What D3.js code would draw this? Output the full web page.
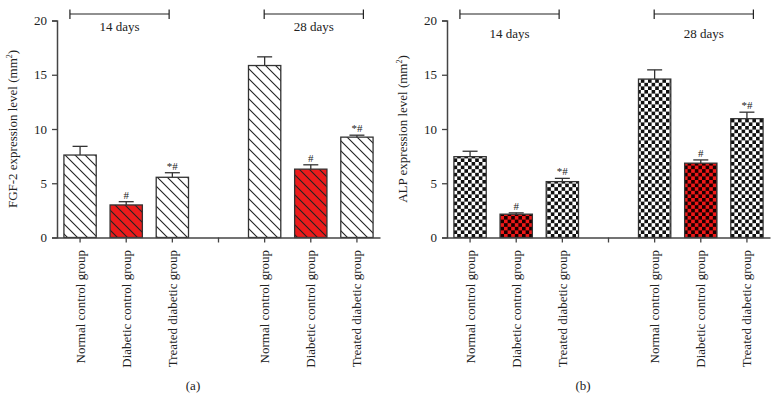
<!DOCTYPE html>
<html>
<head>
<meta charset="utf-8">
<script src="https://cdn.jsdelivr.net/npm/d3@7"></script>
<style>
  body { margin: 0; background: #fff; }
  svg { display: block; font-family: "Liberation Serif", "Times New Roman", serif; }
</style>
</head>
<body>
<div id="chart"></div>
<script>
// Data
const groups = ["Normal control group", "Diabetic control group", "Treated diabetic group"];
const periods = ["14 days", "28 days"];
const marks = ["", "#", "*#"];
const yTicks = [0, 5, 10, 15, 20];

const fgfMean14 = [7.6, 3.0, 5.55];
const fgfErr14  = [0.8, 0.3, 0.42];
const fgfMean28 = [15.85, 6.3, 9.25];
const fgfErr28  = [0.8, 0.4, 0.18];

const alpMean14 = [7.45, 2.15, 5.15];
const alpErr14  = [0.5, 0.12, 0.3];
const alpMean28 = [14.6, 6.85, 10.95];
const alpErr28  = [0.85, 0.3, 0.6];

const W = 780, H = 401;
const svg = d3.select("#chart").append("svg")
  .attr("width", W)
  .attr("height", H);

const defs = svg.append("defs");

// Hatch patterns ("\" diagonals)
function hatch(id, bg) {
  const p = defs.append("pattern")
    .attr("id", id)
    .attr("patternUnits", "userSpaceOnUse")
    .attr("width", 10).attr("height", 10);
  p.append("rect").attr("width", 10).attr("height", 10).attr("fill", bg);
  p.append("path")
    .attr("d", "M-1,-1 L11,11 M-6,4 L1,11 M4,-6 L11,1")
    .attr("stroke", "#222").attr("stroke-width", 1.1);
}
hatch("hatchWhite", "#fff");
hatch("hatchRed", "#ec1c1c");

// Checker patterns
function checker(id, light, dark) {
  const s = 3.6;
  const p = defs.append("pattern")
    .attr("id", id)
    .attr("patternUnits", "userSpaceOnUse")
    .attr("width", s * 2).attr("height", s * 2);
  p.append("rect").attr("width", s * 2).attr("height", s * 2).attr("fill", light);
  p.append("rect").attr("width", s).attr("height", s).attr("fill", dark);
  p.append("rect").attr("x", s).attr("y", s).attr("width", s).attr("height", s).attr("fill", dark);
}
checker("checkWhite", "#fff", "#111");
checker("checkRed", "#f01818", "#1a0000");

const slots = ["n14", "d14", "t14", "gap", "n28", "d28", "t28"];

function panel(opts) {
  const g = svg.append("g");
  const x = d3.scaleBand().domain(slots)
    .range([opts.x0, opts.x0 + 323])
    .paddingInner(0.3).paddingOuter(0.15);
  const y = d3.scaleLinear().domain([0, 20]).range([237.5, 20.5]);
  const xIdx = d3.scaleLinear().domain([0, 7]).range([opts.x0, opts.x0 + 323]);

  const bars = [];
  opts.means14.forEach((m, i) => bars.push({ slot: slots[i], mean: m, err: opts.errs14[i], i }));
  opts.means28.forEach((m, i) => bars.push({ slot: slots[i + 4], mean: m, err: opts.errs28[i], i }));

  // bars
  g.selectAll("rect.bar").data(bars).join("rect")
    .attr("class", "bar")
    .attr("x", d => x(d.slot))
    .attr("y", d => y(d.mean))
    .attr("width", x.bandwidth())
    .attr("height", d => y(0) - y(d.mean))
    .attr("fill", d => d.i === 1 ? opts.red : opts.white)
    .attr("stroke", "#333")
    .attr("stroke-width", 1.3);

  // error bars (upper only)
  const cx = d => x(d.slot) + x.bandwidth() / 2;
  g.selectAll("line.err").data(bars).join("line")
    .attr("x1", cx).attr("x2", cx)
    .attr("y1", d => y(d.mean)).attr("y2", d => y(d.mean + d.err))
    .attr("stroke", "#333").attr("stroke-width", 1.3);
  g.selectAll("line.cap").data(bars).join("line")
    .attr("x1", d => cx(d) - 7.5).attr("x2", d => cx(d) + 7.5)
    .attr("y1", d => y(d.mean + d.err)).attr("y2", d => y(d.mean + d.err))
    .attr("stroke", "#333").attr("stroke-width", 1.3);

  // significance marks
  g.selectAll("text.mark").data(bars.filter(d => marks[d.i])).join("text")
    .attr("x", cx)
    .attr("y", d => y(d.mean + d.err) - 3)
    .attr("text-anchor", "middle")
    .attr("font-size", 11)
    .attr("fill", "#222")
    .text(d => marks[d.i]);

  // y axis
  const yAxis = g.append("g")
    .attr("transform", `translate(${opts.x0},0)`)
    .call(d3.axisLeft(y).tickValues(yTicks).tickSize(5).tickPadding(5));
  yAxis.select(".domain").attr("stroke", "#444").attr("stroke-width", 1.5);
  yAxis.selectAll(".tick line").attr("stroke", "#444").attr("stroke-width", 1.3);
  yAxis.selectAll(".tick text").attr("font-size", 13).attr("fill", "#222")
    .attr("font-family", "Liberation Serif, Times New Roman, serif");

  // x axis
  const xAxis = g.append("g")
    .attr("transform", `translate(0,${y(0)})`)
    .call(d3.axisBottom(x).tickSize(5).tickSizeOuter(0).tickFormat(""));
  xAxis.select(".domain").attr("stroke", "#444").attr("stroke-width", 1.5);
  xAxis.selectAll(".tick line").attr("stroke", "#444").attr("stroke-width", 1.3);

  // category labels
  const labels = [];
  groups.forEach((gname, i) => labels.push({ slot: slots[i], name: gname }));
  groups.forEach((gname, i) => labels.push({ slot: slots[i + 4], name: gname }));
  g.selectAll("text.cat").data(labels).join("text")
    .attr("transform", d => `translate(${x(d.slot) + x.bandwidth() / 2},250) rotate(-90)`)
    .attr("text-anchor", "end")
    .attr("dy", "0.35em")
    .attr("font-size", 13)
    .attr("fill", "#222")
    .text(d => d.name);

  // y label
  const yl = g.append("text")
    .attr("transform", `translate(${opts.x0 - 40},${(y(0) + y(20)) / 2}) rotate(-90)`)
    .attr("text-anchor", "middle")
    .attr("font-size", 13)
    .attr("fill", "#222");
  yl.append("tspan").text(opts.ylabel + " (mm");
  yl.append("tspan").attr("font-size", 8).attr("dy", -5).text("2");
  yl.append("tspan").attr("dy", 5).text(")");

  // period brackets
  const brackets = [[0.28, 2.43], [4.49, 6.64]];
  brackets.forEach((b, k) => {
    const bx1 = xIdx(b[0]), bx2 = xIdx(b[1]);
    g.append("path")
      .attr("d", `M${bx1},9.5 V19 M${bx1},14 H${bx2} M${bx2},9.5 V19`)
      .attr("fill", "none").attr("stroke", "#222").attr("stroke-width", 1.2);
    g.append("text")
      .attr("x", (bx1 + bx2) / 2)
      .attr("y", opts.periodY)
      .attr("text-anchor", "middle")
      .attr("font-size", 13)
      .attr("fill", "#222")
      .text(periods[k]);
  });

  // panel label
  g.append("text")
    .attr("x", opts.x0 + 136)
    .attr("y", 390)
    .attr("text-anchor", "middle")
    .attr("font-size", 13)
    .attr("fill", "#222")
    .text(opts.tag);
}

panel({
  x0: 57, means14: fgfMean14, errs14: fgfErr14, means28: fgfMean28, errs28: fgfErr28,
  white: "url(#hatchWhite)", red: "url(#hatchRed)",
  ylabel: "FGF-2 expression level", periodY: 31, tag: "(a)"
});
panel({
  x0: 447, means14: alpMean14, errs14: alpErr14, means28: alpMean28, errs28: alpErr28,
  white: "url(#checkWhite)", red: "url(#checkRed)",
  ylabel: "ALP expression level", periodY: 38, tag: "(b)"
});
</script>
</body>
</html>
